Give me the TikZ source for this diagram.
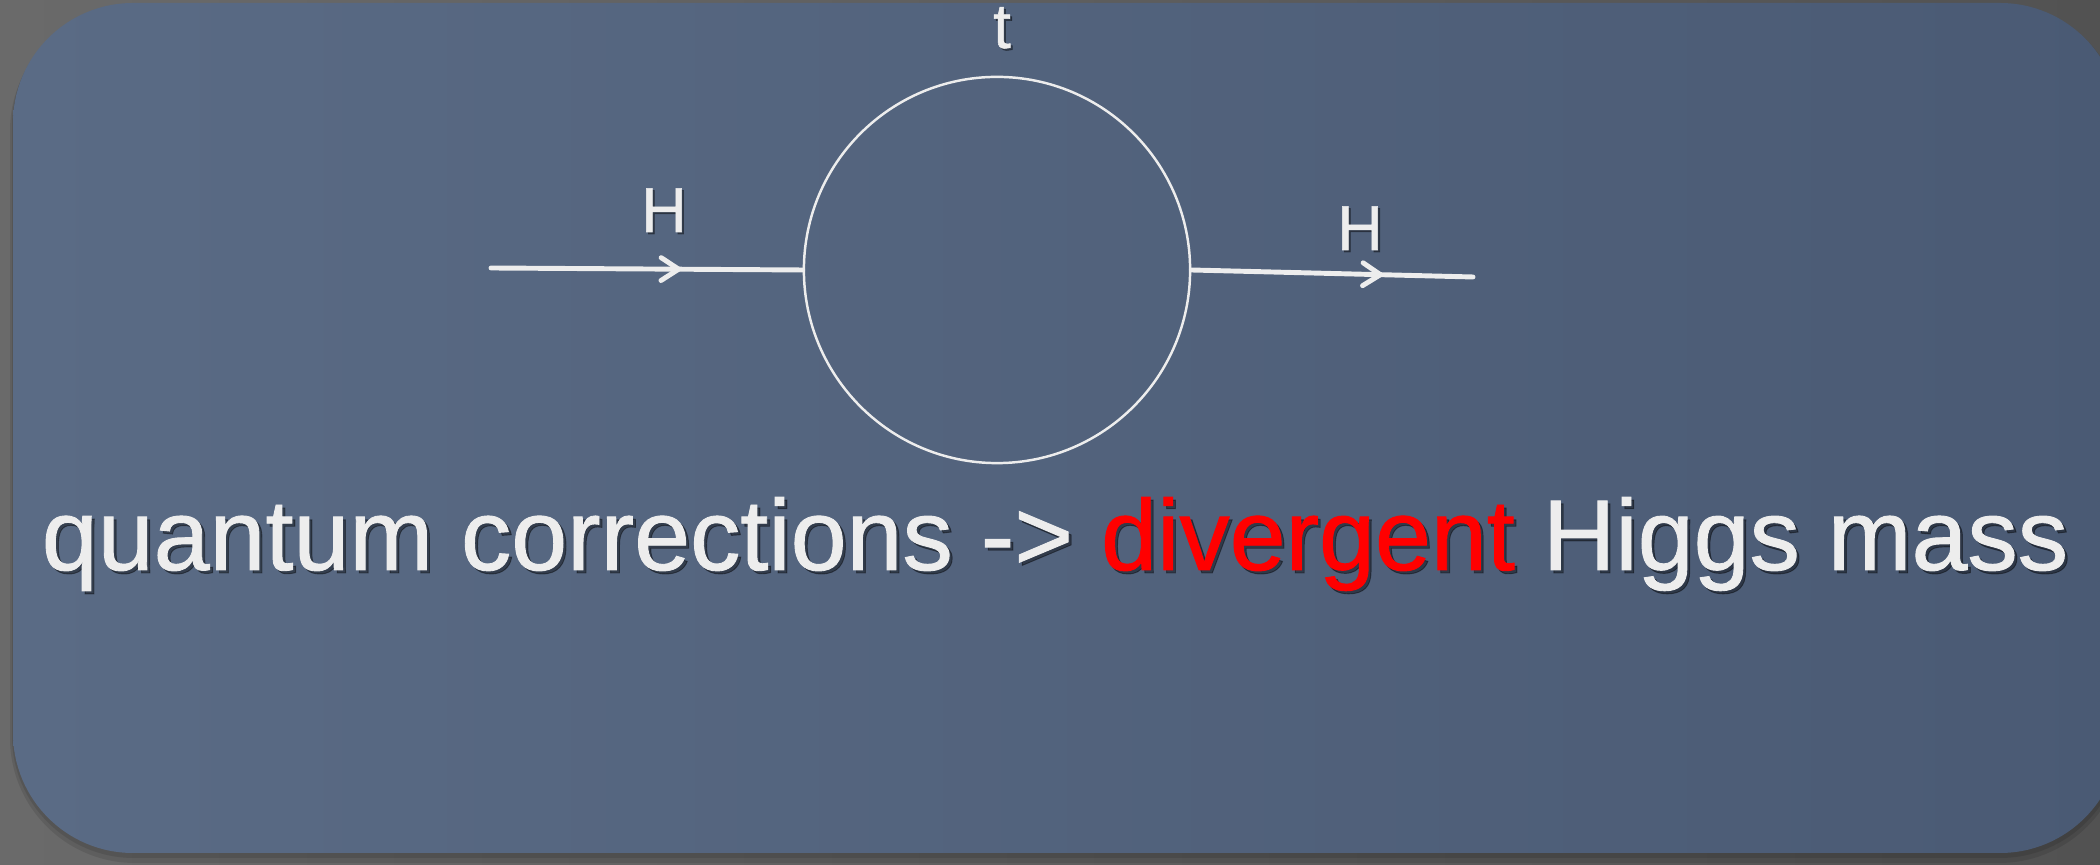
\documentclass[tikz,border=0pt]{standalone}
\usepackage{fontspec}
\setmainfont{Liberation Sans}
\newfontfamily\heavyfont{Liberation Sans}[FakeBold=0.9]
\usetikzlibrary{arrows.meta,decorations.markings}
\definecolor{bgL}{HTML}{6A6A6A}
\definecolor{bgR}{HTML}{525252}
\definecolor{boxL}{HTML}{5A6B85}
\definecolor{boxR}{HTML}{4A5A74}
\definecolor{fgw}{HTML}{EDEDED}
\definecolor{divred}{HTML}{FF0000}
\begin{document}
\begin{tikzpicture}[x=0.01cm,y=-0.01cm,
  lbl/.style={text=fgw, font=\heavyfont\fontsize{18pt}{20pt}\selectfont, inner sep=0pt, anchor=base},
  lblsh/.style={text=black, opacity=0.4, font=\heavyfont\fontsize{18pt}{20pt}\selectfont, inner sep=0pt, anchor=base},
  bigtxt/.style={font=\heavyfont\fontsize{28.6pt}{32pt}\selectfont, inner sep=0pt, anchor=base},
  prop/.style={draw=fgw, line width=1.4pt, line cap=round},
  midarrow/.style={postaction={decorate}, decoration={markings,
     mark=at position #1 with {\arrow[fgw]{Straight Barb[length=5pt,width=6.5pt,line width=1.4pt,round]}}}},
  loopstyle/.style={circle, draw=fgw, line width=0.7pt, minimum size=3.86cm, inner sep=0pt}
]
\useasboundingbox (0,0) rectangle (2100,865);
% background
\shade[left color=bgL, right color=bgR] (0,0) rectangle (2100,865);
% shadow of the panel
\fill[black, opacity=0.10, rounded corners=1.25cm] (10,6) rectangle (2124,863);
\fill[black, opacity=0.10, rounded corners=1.22cm] (12,4) rectangle (2122,858);
% panel
\shade[left color=boxL, right color=boxR, rounded corners=1.2cm] (13,3) rectangle (2120,853);

% loop
\node[loopstyle] (loop) at (997,270) {};
\coordinate (inL) at (491,268);
\coordinate (outR) at (1473,277);
\draw[prop, midarrow=0.61] (inL) -- (loop.west);
\draw[prop, midarrow=0.68] (loop.east) -- (outR);

% labels
\node[lblsh] (Hlsh) at (666,234) {H};
\node[lbl] (Hl) at (664,232) {H};
\node[lblsh] (Hrsh) at (1362,252) {H};
\node[lbl] (Hr) at (1360,250) {H};
\node[lblsh] (tsh) at (1004,50) {t};
\node[lbl] (t) at (1002,48) {t};

% main text
\node[bigtxt, text=black, opacity=0.4] (mainsh) at (1058,573)
  {quantum corrections -> divergent Higgs mass};
\node[bigtxt, text=fgw] (main) at (1055,570)
  {quantum corrections -> \textcolor{divred}{divergent} Higgs mass};
\end{tikzpicture}
\end{document}
